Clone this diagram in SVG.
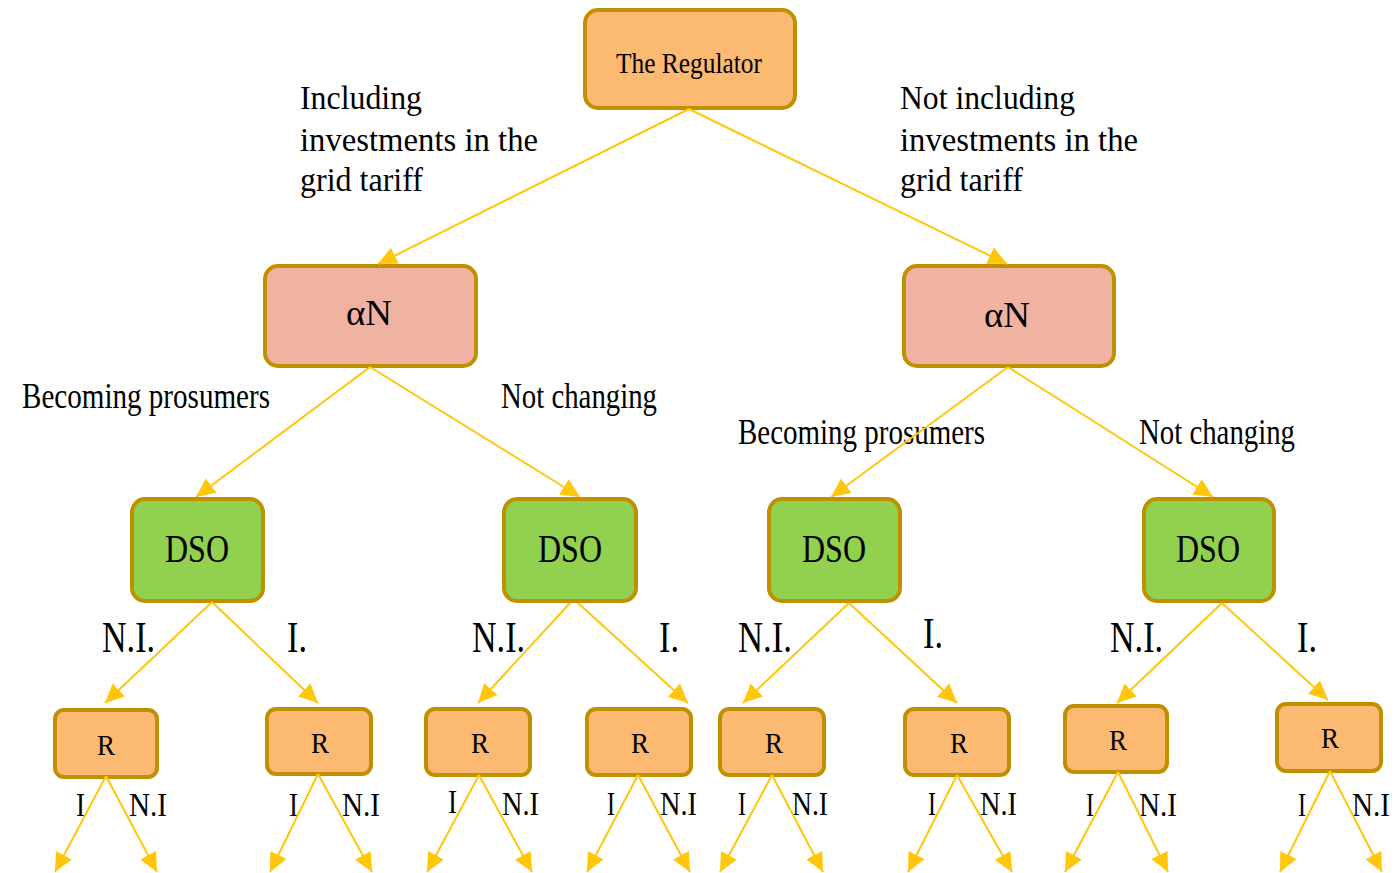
<svg xmlns="http://www.w3.org/2000/svg" width="1395" height="873" viewBox="0 0 1395 873">
<style>
text{font-family:"Liberation Serif","Times New Roman",serif;fill:#000;}
.node{stroke:#BF9000;stroke-width:4;}
.org{fill:#FBB971;}
.pink{fill:#F1B3A1;}
.grn{fill:#92D050;}
.edge{stroke:#FFC60A;stroke-width:2;fill:none;marker-end:url(#ah);}
.hl{font-size:33px;}
.bl{font-size:35px;}
.ni{font-size:44px;}
.sm{font-size:34px;}
.an{font-size:36px;}
.r{font-size:29px;}
</style>
<defs>
<marker id="ah" markerUnits="userSpaceOnUse" markerWidth="22" markerHeight="22" refX="19" refY="10" orient="auto" viewBox="0 0 22 22">
<path d="M0,1 L19,10 L0,19 Z" fill="#FFC60A"/>
</marker>
</defs>
<rect width="1395" height="873" fill="#fff"/>

<g id="regulator"><rect class="node org" x="585" y="10" width="210" height="98" rx="13"/><text x="616" y="73" font-size="30" textLength="146" lengthAdjust="spacingAndGlyphs">The Regulator</text></g>
<g id="alphaN-left"><rect class="node pink" x="265" y="266" width="211" height="100" rx="13"/><text class="an" x="346" y="325" textLength="46" lengthAdjust="spacingAndGlyphs">αN</text></g>
<g id="alphaN-right"><rect class="node pink" x="904" y="266" width="210" height="100" rx="13"/><text class="an" x="984" y="327" textLength="46" lengthAdjust="spacingAndGlyphs">αN</text></g>

<g id="dso1"><rect class="node grn" x="132" y="499" width="131" height="102" rx="13"/><text x="165" y="562" font-size="40" textLength="64" lengthAdjust="spacingAndGlyphs">DSO</text></g>
<g id="dso2"><rect class="node grn" x="504" y="499" width="132" height="102" rx="13"/><text x="538" y="562" font-size="40" textLength="64" lengthAdjust="spacingAndGlyphs">DSO</text></g>
<g id="dso3"><rect class="node grn" x="769" y="499" width="131" height="102" rx="13"/><text x="802" y="562" font-size="40" textLength="64" lengthAdjust="spacingAndGlyphs">DSO</text></g>
<g id="dso4"><rect class="node grn" x="1144" y="499" width="130" height="102" rx="13"/><text x="1176" y="562" font-size="40" textLength="64" lengthAdjust="spacingAndGlyphs">DSO</text></g>

<g id="r1"><rect class="node org" x="55" y="710" width="102" height="67" rx="9"/><text class="r" x="97" y="755" textLength="18" lengthAdjust="spacingAndGlyphs">R</text></g>
<g id="r2"><rect class="node org" x="267" y="709" width="104" height="65" rx="9"/><text class="r" x="311" y="753" textLength="18" lengthAdjust="spacingAndGlyphs">R</text></g>
<g id="r3"><rect class="node org" x="426" y="709" width="104" height="66" rx="9"/><text class="r" x="471" y="753" textLength="18" lengthAdjust="spacingAndGlyphs">R</text></g>
<g id="r4"><rect class="node org" x="587" y="709" width="104" height="66" rx="9"/><text class="r" x="631" y="753" textLength="18" lengthAdjust="spacingAndGlyphs">R</text></g>
<g id="r5"><rect class="node org" x="720" y="709" width="104" height="66" rx="9"/><text class="r" x="765" y="753" textLength="18" lengthAdjust="spacingAndGlyphs">R</text></g>
<g id="r6"><rect class="node org" x="905" y="709" width="104" height="66" rx="9"/><text class="r" x="950" y="753" textLength="18" lengthAdjust="spacingAndGlyphs">R</text></g>
<g id="r7"><rect class="node org" x="1065" y="706" width="102" height="66" rx="9"/><text class="r" x="1109" y="750" textLength="18" lengthAdjust="spacingAndGlyphs">R</text></g>
<g id="r8"><rect class="node org" x="1277" y="704" width="104" height="67" rx="9"/><text class="r" x="1321" y="748" textLength="18" lengthAdjust="spacingAndGlyphs">R</text></g>

<g id="labels">
<text class="hl" x="300" y="109" textLength="122" lengthAdjust="spacingAndGlyphs">Including</text>
<text class="hl" x="300" y="151" textLength="238" lengthAdjust="spacingAndGlyphs">investments in the</text>
<text class="hl" x="300" y="191" textLength="123" lengthAdjust="spacingAndGlyphs">grid tariff</text>
<text class="hl" x="900" y="109" textLength="175" lengthAdjust="spacingAndGlyphs">Not including</text>
<text class="hl" x="900" y="151" textLength="238" lengthAdjust="spacingAndGlyphs">investments in the</text>
<text class="hl" x="900" y="191" textLength="123" lengthAdjust="spacingAndGlyphs">grid tariff</text>
<text class="bl" x="22" y="408" textLength="248" lengthAdjust="spacingAndGlyphs">Becoming prosumers</text>
<text class="bl" x="501" y="408" textLength="156" lengthAdjust="spacingAndGlyphs">Not changing</text>
<text class="bl" x="738" y="444" textLength="247" lengthAdjust="spacingAndGlyphs">Becoming prosumers</text>
<text class="bl" x="1139" y="444" textLength="156" lengthAdjust="spacingAndGlyphs">Not changing</text>
<text class="ni" x="102" y="652" textLength="53" lengthAdjust="spacingAndGlyphs">N.I.</text>
<text class="ni" x="287" y="652" textLength="20" lengthAdjust="spacingAndGlyphs">I.</text>
<text class="ni" x="472" y="652" textLength="53" lengthAdjust="spacingAndGlyphs">N.I.</text>
<text class="ni" x="659" y="652" textLength="20" lengthAdjust="spacingAndGlyphs">I.</text>
<text class="ni" x="738" y="652" textLength="54" lengthAdjust="spacingAndGlyphs">N.I.</text>
<text class="ni" x="923" y="648" textLength="20" lengthAdjust="spacingAndGlyphs">I.</text>
<text class="ni" x="1110" y="652" textLength="53" lengthAdjust="spacingAndGlyphs">N.I.</text>
<text class="ni" x="1297" y="652" textLength="20" lengthAdjust="spacingAndGlyphs">I.</text>
<text class="sm" x="76" y="816" textLength="9" lengthAdjust="spacingAndGlyphs">I</text>
<text class="sm" x="129" y="816" textLength="38" lengthAdjust="spacingAndGlyphs">N.I</text>
<text class="sm" x="289" y="816" textLength="9" lengthAdjust="spacingAndGlyphs">I</text>
<text class="sm" x="342" y="816" textLength="38" lengthAdjust="spacingAndGlyphs">N.I</text>
<text class="sm" x="448" y="813" textLength="9" lengthAdjust="spacingAndGlyphs">I</text>
<text class="sm" x="502" y="815" textLength="37" lengthAdjust="spacingAndGlyphs">N.I</text>
<text class="sm" x="607" y="815" textLength="8" lengthAdjust="spacingAndGlyphs">I</text>
<text class="sm" x="660" y="815" textLength="37" lengthAdjust="spacingAndGlyphs">N.I</text>
<text class="sm" x="738" y="815" textLength="8" lengthAdjust="spacingAndGlyphs">I</text>
<text class="sm" x="792" y="815" textLength="36" lengthAdjust="spacingAndGlyphs">N.I</text>
<text class="sm" x="928" y="815" textLength="8" lengthAdjust="spacingAndGlyphs">I</text>
<text class="sm" x="980" y="815" textLength="37" lengthAdjust="spacingAndGlyphs">N.I</text>
<text class="sm" x="1086" y="816" textLength="8" lengthAdjust="spacingAndGlyphs">I</text>
<text class="sm" x="1139" y="816" textLength="38" lengthAdjust="spacingAndGlyphs">N.I</text>
<text class="sm" x="1298" y="816" textLength="8" lengthAdjust="spacingAndGlyphs">I</text>
<text class="sm" x="1352" y="816" textLength="38" lengthAdjust="spacingAndGlyphs">N.I</text>
</g>

<g id="connectors">
<line class="edge" x1="689" y1="109" x2="378" y2="264"/>
<line class="edge" x1="689" y1="109" x2="1007" y2="264"/>
<line class="edge" x1="370" y1="367" x2="196" y2="497"/>
<line class="edge" x1="370" y1="367" x2="580" y2="497"/>
<line class="edge" x1="1008" y1="367" x2="831" y2="497"/>
<line class="edge" x1="1008" y1="367" x2="1213" y2="497"/>
<line class="edge" x1="212" y1="602" x2="105" y2="703"/>
<line class="edge" x1="212" y1="602" x2="318" y2="703"/>
<line class="edge" x1="570" y1="603" x2="478" y2="703"/>
<line class="edge" x1="578" y1="603" x2="688" y2="703"/>
<line class="edge" x1="849" y1="603" x2="743" y2="703"/>
<line class="edge" x1="849" y1="603" x2="957" y2="703"/>
<line class="edge" x1="1222" y1="603" x2="1117" y2="703"/>
<line class="edge" x1="1222" y1="603" x2="1328" y2="700"/>
<line class="edge" x1="106" y1="776" x2="55" y2="872"/>
<line class="edge" x1="106" y1="776" x2="157" y2="872"/>
<line class="edge" x1="318" y1="774" x2="270" y2="872"/>
<line class="edge" x1="318" y1="774" x2="372" y2="872"/>
<line class="edge" x1="479" y1="775" x2="427" y2="872"/>
<line class="edge" x1="479" y1="775" x2="532" y2="872"/>
<line class="edge" x1="638" y1="775" x2="587" y2="872"/>
<line class="edge" x1="638" y1="775" x2="690" y2="872"/>
<line class="edge" x1="772" y1="775" x2="720" y2="872"/>
<line class="edge" x1="772" y1="775" x2="823" y2="872"/>
<line class="edge" x1="957" y1="775" x2="908" y2="872"/>
<line class="edge" x1="957" y1="775" x2="1012" y2="872"/>
<line class="edge" x1="1118" y1="772" x2="1065" y2="872"/>
<line class="edge" x1="1118" y1="772" x2="1168" y2="872"/>
<line class="edge" x1="1330" y1="771" x2="1280" y2="872"/>
<line class="edge" x1="1330" y1="771" x2="1382" y2="872"/>
</g>
</svg>
